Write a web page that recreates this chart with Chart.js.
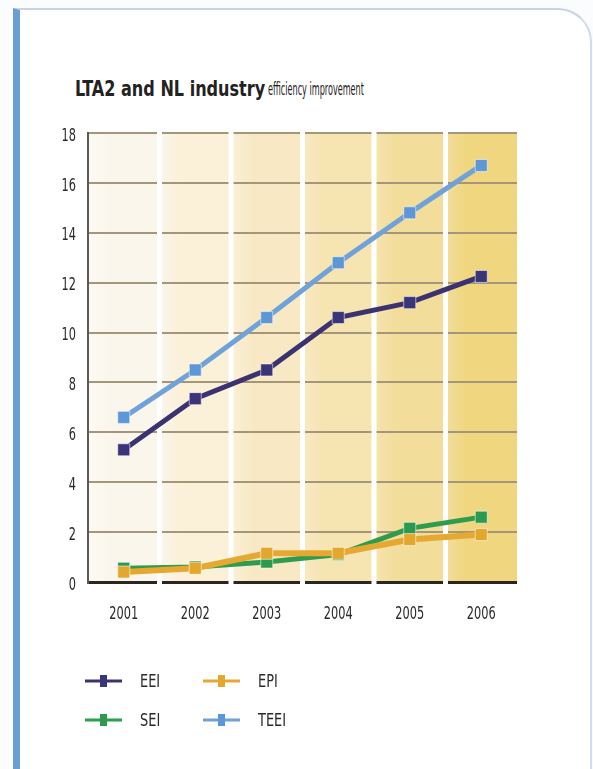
<!DOCTYPE html>
<html>
<head>
<meta charset="utf-8">
<script src="https://cdn.jsdelivr.net/npm/chart.js@4.4.1/dist/chart.umd.min.js"></script>
<style>
  html, body { margin: 0; padding: 0; background: #fafcfe; }
  #wrap { position: relative; width: 593px; height: 769px; overflow: hidden; }
  #frame {
    position: absolute; left: 13px; top: 8px; width: 570px; height: 800px;
    background: #fff;
    border-left: 7px solid #6b9fd4;
    border-top: 2px solid #c9d3e6;
    border-right: 2px solid #d3dae9;
    border-top-right-radius: 34px;
  }
  #title {
    position: absolute; left: 75px; top: 79px; width: 320px; height: 24px;
    font-family: 'DejaVu Sans Condensed', 'DejaVu Sans', sans-serif;
    color: #222; line-height: 21px; white-space: nowrap;
  }
  #title b, #title span {
    position: absolute; top: 0; transform-origin: left center;
  }
  #title b { left: 0; font-size: 21px; transform: scaleX(0.85); }
  #title span { left: 193px; font-size: 17px; transform: scaleX(0.53); }
  canvas { position: absolute; left: 0; top: 0; }
</style>
</head>
<body>
<div id="wrap">
  <div id="frame"></div>
  <div id="title"><b>LTA2 and NL industry</b><span>efficiency improvement</span></div>
  <canvas id="myChart" width="593" height="769"></canvas>
</div>
<script>
const years = ['2001', '2002', '2003', '2004', '2005', '2006'];
const seriesNames = ['EEI', 'EPI', 'SEI', 'TEEI'];
const eei = [5.3, 7.35, 8.5, 10.6, 11.2, 12.25];
const epi = [0.4, 0.55, 1.15, 1.15, 1.7, 1.9];
const sei = [0.55, 0.6, 0.8, 1.1, 2.15, 2.6];
const teei = [6.6, 8.5, 10.6, 12.8, 14.8, 16.7];

const bandColors = ['#fbf6ec', '#fbf0d8', '#f8e9c4', '#f6e4b1', '#f3dd9b', '#efd67f'];
const FONT = "'DejaVu Sans Condensed', 'DejaVu Sans', sans-serif";

// narrow text: the installed fonts are too wide, so squeeze horizontally
function narrowText(ctx, text, px, py, sx, align) {
  ctx.save();
  ctx.translate(px, py);
  ctx.scale(sx, 1);
  ctx.textAlign = align;
  ctx.fillText(text, 0, 0);
  ctx.restore();
}

const bandsPlugin = {
  id: 'bands',
  beforeDraw(chart) {
    const ctx = chart.ctx, a = chart.chartArea, x = chart.scales.x;
    const step = x.getPixelForValue(1) - x.getPixelForValue(0);
    ctx.save();
    years.forEach((y, i) => {
      const c = x.getPixelForValue(i);
      const g = ctx.createLinearGradient(c - step / 2, 0, c + step / 2, 0);
      g.addColorStop(0, i ? bandColors[i - 1] : '#fdfaf4');
      g.addColorStop(0.3, bandColors[i]);
      g.addColorStop(1, bandColors[i]);
      ctx.fillStyle = g;
      ctx.fillRect(c - step / 2, a.top, step, a.bottom - a.top);
    });
    ctx.restore();
  },
  beforeDatasetsDraw(chart) {
    // white separators cut the grid lines at the band edges
    const ctx = chart.ctx, a = chart.chartArea, x = chart.scales.x;
    const step = x.getPixelForValue(1) - x.getPixelForValue(0);
    ctx.save();
    ctx.fillStyle = '#ffffff';
    for (let i = 1; i < years.length; i++) {
      const b = x.getPixelForValue(i) - step / 2;
      ctx.fillRect(b - 2.5, a.top - 2, 5, a.bottom - a.top + 4);
    }
    ctx.restore();
  },
  afterDraw(chart) {
    const ctx = chart.ctx, x = chart.scales.x, y = chart.scales.y;
    ctx.save();
    ctx.fillStyle = '#2a2a2a';
    ctx.textBaseline = 'middle';
    ctx.font = '18px ' + FONT;
    x.ticks.forEach((t, i) => {
      narrowText(ctx, x.getLabelForValue(t.value), x.getPixelForTick(i), 614, 0.7, 'center');
    });
    y.ticks.forEach((t, i) => {
      narrowText(ctx, t.label, 76, y.getPixelForTick(i) + 3, 0.7, 'right');
    });

    // legend: line + square marker, 2 columns
    chart.data.datasets.forEach((ds, i) => {
      const col = i % 2, row = Math.floor(i / 2);
      const x0 = 85 + col * 118, y0 = 681 + row * 39;
      ctx.strokeStyle = ds.borderColor;
      ctx.lineWidth = 3;
      ctx.beginPath();
      ctx.moveTo(x0, y0);
      ctx.lineTo(x0 + 37, y0);
      ctx.stroke();
      ctx.fillStyle = ds.pointBackgroundColor;
      ctx.fillRect(x0 + 15, y0 - 6, 7, 12);
      ctx.fillStyle = '#2a2a2a';
      ctx.font = '18px ' + FONT;
      narrowText(ctx, ds.label, x0 + 55, y0 + 1, 0.8, 'left');
    });
    ctx.restore();
  }
};

function line(label, data, color, marker, width) {
  return {
    label: label,
    data: data,
    borderColor: color,
    backgroundColor: color,
    borderWidth: width,
    pointStyle: 'rect',
    pointRadius: 8.5,
    pointHoverRadius: 8.5,
    pointBackgroundColor: marker,
    pointBorderColor: 'rgba(255,255,255,0.55)',
    pointBorderWidth: 1,
    tension: 0
  };
}

const ctx = document.getElementById('myChart').getContext('2d');
new Chart(ctx, {
  type: 'line',
  data: {
    labels: years,
    datasets: [
      line(seriesNames[0], eei, '#3b3371', '#3a3478', 5),
      line(seriesNames[1], epi, '#e5a932', '#e3a72e', 6),
      line(seriesNames[2], sei, '#2f9b4d', '#2b9a4e', 5),
      line(seriesNames[3], teei, '#6ea2d9', '#5d97d6', 5)
    ]
  },
  options: {
    responsive: false,
    animation: false,
    layout: {
      padding: { left: 40, right: 76, top: 133, bottom: 147 }
    },
    plugins: {
      legend: { display: false },
      tooltip: { enabled: false }
    },
    scales: {
      x: {
        offset: true,
        grid: { display: false, drawTicks: false },
        border: { display: false },
        ticks: { display: false },
        afterFit: (s) => { s.height = 40; }
      },
      y: {
        min: 0,
        max: 18,
        ticks: { stepSize: 2, display: false },
        grid: {
          drawTicks: false,
          color: (c) => c.tick && c.tick.value === 0 ? '#2b2620' : '#a49678',
          lineWidth: (c) => c.tick && c.tick.value === 0 ? 3 : 2
        },
        border: { display: true, color: '#5c5a55', width: 2 },
        afterFit: (s) => { s.width = 48; }
      }
    }
  },
  plugins: [bandsPlugin]
});
</script>
</body>
</html>
